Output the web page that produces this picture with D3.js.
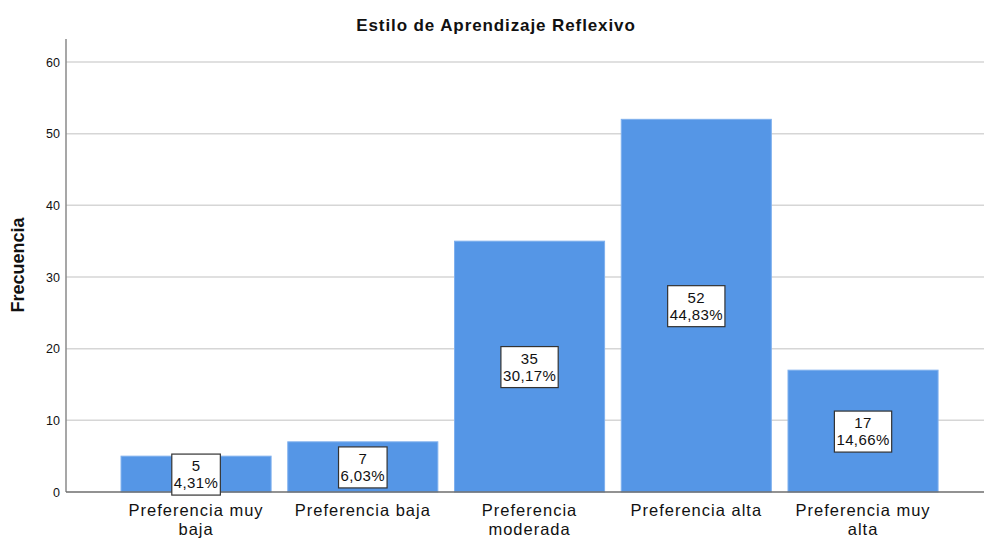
<!DOCTYPE html>
<meta charset="utf-8">
<style>
body { margin: 0; background: #fff; }
text { font-family: "Liberation Sans", Arial, sans-serif; fill: #111; }
.grid line { stroke: #d6d6d6; stroke-width: 1.5px; }
</style>
<svg width="984" height="538"></svg>
<script src="https://cdnjs.cloudflare.com/ajax/libs/d3/7.8.5/d3.min.js"></script>
<script>
var categories = ["Preferencia muy baja", "Preferencia baja", "Preferencia moderada", "Preferencia alta", "Preferencia muy alta"];
var labelLines = [["Preferencia muy", "baja"], ["Preferencia baja"], ["Preferencia", "moderada"], ["Preferencia alta"], ["Preferencia muy", "alta"]];
var counts = [5, 7, 35, 52, 17];
var percents = ["4,31%", "6,03%", "30,17%", "44,83%", "14,66%"];
var yTicks = [0, 10, 20, 30, 40, 50, 60];

var svg = d3.select("svg"),
    width = +svg.attr("width"),
    height = +svg.attr("height");
var plot_left = 66, plot_top = 39, plot_bottom = 492;
var bar_color = "#5596e6";

var x = d3.scaleBand()
    .domain(categories)
    .range([112.7, 946.4])
    .paddingInner(0.1)
    .paddingOuter(0.05);
var y = d3.scaleLinear()
    .domain([0, 60])
    .range([plot_bottom, 62]);

// gridlines
svg.append("g")
    .attr("class", "grid")
  .selectAll("line")
  .data(yTicks.filter(function(d) { return d > 0; }))
  .enter().append("line")
    .attr("x1", plot_left)
    .attr("x2", width)
    .attr("y1", function(d) { return y(d); })
    .attr("y2", function(d) { return y(d); });

// bars
svg.append("g")
  .selectAll("rect")
  .data(counts)
  .enter().append("rect")
    .attr("x", function(d, i) { return x(categories[i]); })
    .attr("y", function(d) { return y(d); })
    .attr("width", x.bandwidth())
    .attr("height", function(d) { return plot_bottom - y(d); })
    .attr("fill", bar_color)
    .attr("stroke", "#7fb0ee")
    .attr("stroke-width", 1);

// axes
var yAxis = svg.append("g")
    .attr("transform", "translate(" + plot_left + ",0)")
    .call(d3.axisLeft(y).tickValues(yTicks).tickSize(0).tickPadding(6));
yAxis.select(".domain").remove();
yAxis.selectAll("text")
    .style("font-size", "12.5px")
    .attr("fill", "#111");

svg.append("line")
    .attr("x1", plot_left).attr("x2", plot_left)
    .attr("y1", plot_top).attr("y2", plot_bottom)
    .attr("stroke", "#8a8a8a")
    .attr("stroke-width", 1.5);
svg.append("line")
    .attr("x1", plot_left).attr("x2", width)
    .attr("y1", plot_bottom).attr("y2", plot_bottom)
    .attr("stroke", "#6e6e6e")
    .attr("stroke-width", 1.5);

// x labels (two lines where the reference wraps)
var xl = svg.append("g")
  .selectAll("text")
  .data(categories)
  .enter().append("text")
    .attr("x", function(d) { return x(d) + x.bandwidth() / 2; })
    .attr("y", 516)
    .attr("text-anchor", "middle")
    .style("font-size", "16.5px")
    .style("letter-spacing", "1px");
xl.each(function(d, i) {
  var t = d3.select(this);
  labelLines[i].forEach(function(l, j) {
    t.append("tspan")
      .attr("x", x(d) + x.bandwidth() / 2)
      .attr("dy", j === 0 ? 0 : 18.5)
      .text(l);
  });
});

// data label boxes
var lab = svg.append("g")
  .selectAll("g")
  .data(counts)
  .enter().append("g")
    .attr("transform", function(d, i) {
      return "translate(" + (x(categories[i]) + x.bandwidth() / 2) + "," + y(d / 2) + ")";
    });
lab.append("rect")
    .attr("fill", "#fff")
    .attr("stroke", "#333")
    .attr("stroke-width", 1.2);
lab.append("text")
    .attr("text-anchor", "middle")
    .attr("y", -3)
    .style("font-size", "15px")
    .style("letter-spacing", "0.4px")
    .text(function(d) { return d; });
lab.append("text")
    .attr("class", "pct")
    .attr("text-anchor", "middle")
    .attr("y", 14)
    .style("font-size", "15px")
    .style("letter-spacing", "0.4px")
    .text(function(d, i) { return percents[i]; });
lab.each(function() {
  var g = d3.select(this);
  var w = g.select(".pct").node().getComputedTextLength() + 4;
  g.select("rect")
    .attr("x", -w / 2)
    .attr("y", -20)
    .attr("width", w)
    .attr("height", 41);
});

// title
svg.append("text")
    .attr("x", 496)
    .attr("y", 31)
    .attr("text-anchor", "middle")
    .style("font-size", "17px")
    .style("font-weight", "bold")
    .style("letter-spacing", "0.9px")
    .text("Estilo de Aprendizaje Reflexivo");

svg.append("text")
    .attr("transform", "translate(24," + 265 + ") rotate(-90)")
    .attr("text-anchor", "middle")
    .style("font-size", "18px")
    .style("font-weight", "bold")
    .text("Frecuencia");
</script>
